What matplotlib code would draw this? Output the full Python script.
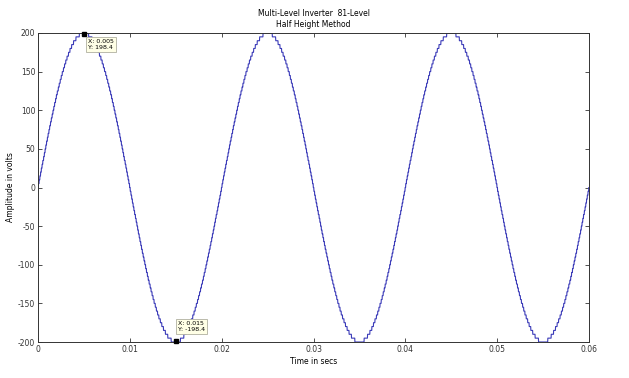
import numpy as np
import matplotlib
matplotlib.use("Agg")
import matplotlib.pyplot as plt

# Waveform parameters (81-level inverter, half-height method)
amplitude = 200.0
frequency = 50.0
n_levels = 81
t_end = 0.06
n_samples = 6001

# Data tips
tip_x = [0.005, 0.015]
tip_y = [198.4, -198.4]

xticks = [0, 0.01, 0.02, 0.03, 0.04, 0.05, 0.06]
xticklabels = ["0", "0.01", "0.02", "0.03", "0.04", "0.05", "0.06"]
yticks = [-200, -150, -100, -50, 0, 50, 100, 150, 200]

step = amplitude / ((n_levels - 1) / 2)
t = np.linspace(0, t_end, n_samples)
v = np.round(amplitude * np.sin(2 * np.pi * frequency * t) / step) * step

plt.rcParams['font.family'] = ['DejaVu Sans']
plt.rcParams['axes.unicode_minus'] = False
fig = plt.figure(figsize=(6.29, 3.78), dpi=100)
ax = fig.add_axes([38/629, 1-342/378, (589-38)/629, (342-33)/378])
ax.plot(t, v, color='#3a3ab8', linewidth=0.8)
ax.set_xlim(0, t_end)
ax.set_ylim(-200, 200)
ax.set_xticks(xticks)
ax.set_xticklabels(xticklabels)
ax.set_yticks(yticks)
ax.tick_params(direction='in', length=3, labelsize=5.5, top=True, right=True,
               width=0.6, pad=2, colors='#333333')
for s in ax.spines.values():
    s.set_linewidth(0.7)
    s.set_color('#333333')

ax.set_title("Multi-Level Inverter  81-Level\nHalf Height Method", fontsize=5.5,
             pad=4, linespacing=1.3)
ax.set_xlabel("Time in secs", fontsize=5.5, labelpad=2)
ax.set_ylabel("Amplitude in volts", fontsize=5.5, labelpad=2)

ax.plot(tip_x, tip_y, 's', color='black', markersize=3.5, clip_on=False, zorder=5)
bbox = dict(boxstyle='square,pad=0.35', facecolor='#ffffe6', edgecolor='#b0b0a0', linewidth=0.6)
ax.annotate(f"X: {tip_x[0]:.3f}\nY: {tip_y[0]}", xy=(tip_x[0], tip_y[0]),
            xytext=(3, -3.5), textcoords='offset points', fontsize=4.5,
            va='top', ha='left', bbox=bbox, zorder=6)
ax.annotate(f"X: {tip_x[1]:.3f}\nY: {tip_y[1]}", xy=(tip_x[1], tip_y[1]),
            xytext=(1.5, 6.5), textcoords='offset points', fontsize=4.5,
            va='bottom', ha='left', bbox=bbox, zorder=6)

fig.savefig("out.png", dpi=100)
